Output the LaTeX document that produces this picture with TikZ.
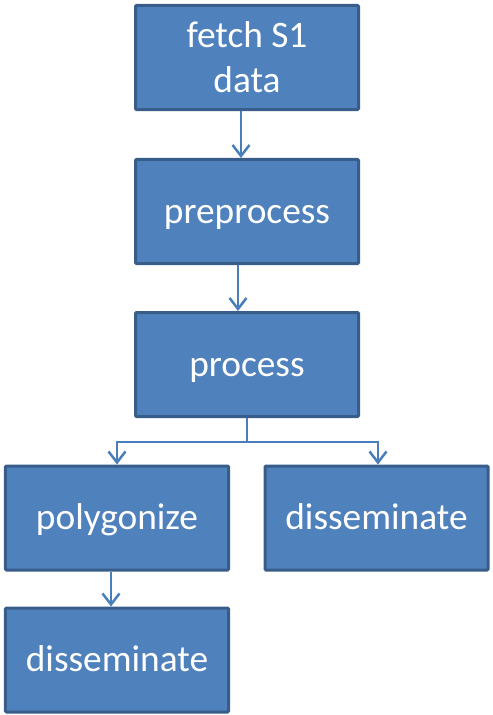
\documentclass[tikz,border=0pt]{standalone}
\usepackage{fontspec}
\setmainfont{Carlito}
\usetikzlibrary{arrows.meta,calc}

\definecolor{boxfill}{RGB}{79,129,189}
\definecolor{boxline}{RGB}{56,93,138}
\definecolor{arrowline}{RGB}{74,126,187}

\begin{document}
\begin{tikzpicture}[x=1bp, y=-1bp,
    stepbox/.style={rectangle, draw=boxline, fill=boxfill, line width=3bp,
        minimum width=223bp, minimum height=104bp, text=white, align=center,
        font=\fontsize{37.5}{45}\selectfont, rounded corners=1bp},
    oneline/.style={stepbox, text height=30bp, text depth=7bp},
    flow/.style={draw=arrowline, line width=2.5bp,
        -{Straight Barb[length=11bp, width=17bp, line width=2.5bp]}}]

    % Frame of the picture
    \useasboundingbox (0,0) rectangle (493,715);

    % Boxes of the pipeline
    \node[stepbox] (fetch) at (247,57.5) {fetch S1\\data};
    \node[oneline] (prep)  at (247,211.5) {preprocess};
    \node[oneline] (proc)  at (247,364.5) {process};
    \node[oneline] (poly)  at (117,518) {polygonize};
    \node[oneline] (dissR) at (376.5,518) {disseminate};
    \node[oneline] (dissL) at (117,660) {disseminate};

    % Straight arrows
    \draw[flow] ([xshift=-6bp]fetch.south) -- ([xshift=-6bp]prep.north);
    \draw[flow] ([xshift=-9bp]prep.south) -- ([xshift=-9bp]proc.north);
    \draw[flow] ([xshift=-6bp]poly.south) -- ([xshift=-6bp]dissL.north);

    % Split below process
    \coordinate (split) at ($(proc.south)+(0,24)$);
    \draw[draw=arrowline, line width=2.5bp] (proc.south) -- (split);
    \draw[flow] (split) -| (poly.north);
    \draw[flow] (split) -| ([xshift=1.5bp]dissR.north);

\end{tikzpicture}
\end{document}
